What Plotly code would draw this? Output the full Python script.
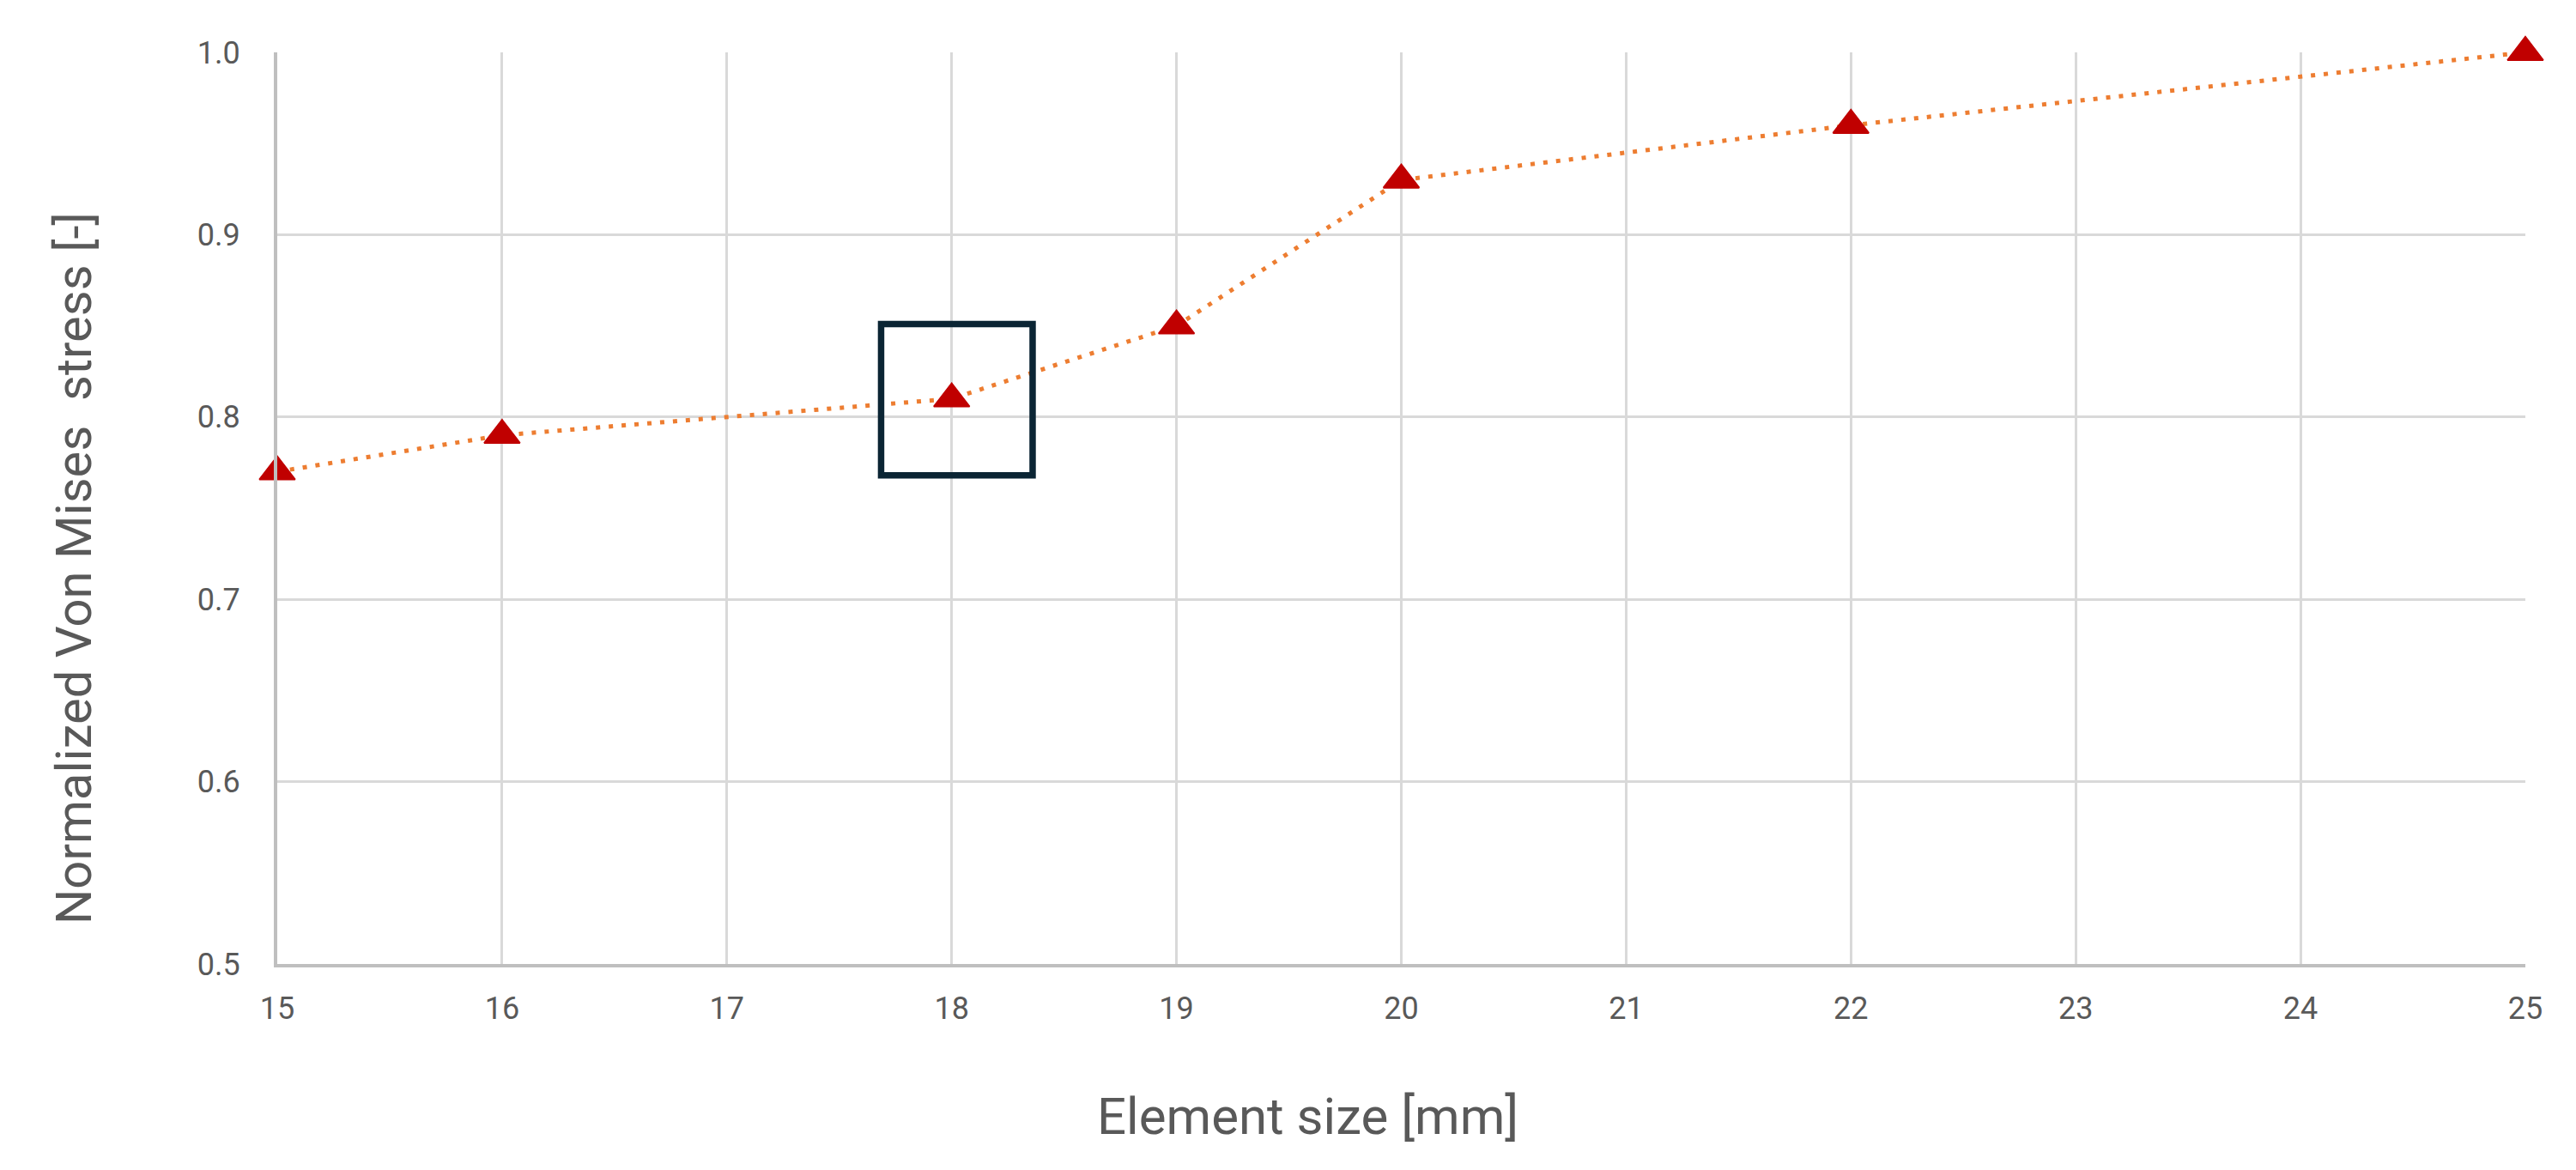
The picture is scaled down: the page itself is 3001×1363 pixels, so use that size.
import plotly.graph_objects as go

# -----------------------------------------------------------------------------
#
# Data
#
# -----------------------------------------------------------------------------
element_size = [15, 16, 18, 19, 20, 22, 25]
norm_stress = [0.77, 0.79, 0.81, 0.85, 0.93, 0.96, 1.0]

x_ticks = list(range(15, 26))
y_ticks = [0.5, 0.6, 0.7, 0.8, 0.9, 1.0]
y_tick_text = ['0.5', '0.6', '0.7', '0.8', '0.9', '1.0']

x_title = 'Element size [mm]'
y_title = 'Normalized Von Mises\u00a0 stress [-]'

# highlight box around the 18 mm point (data coordinates)
box_x = [17.686, 18.36]
box_y = [0.768, 0.851]

# -----------------------------------------------------------------------------
#
# Build the figure
#
# -----------------------------------------------------------------------------
fig = go.Figure()
fig.add_trace(go.Scatter(
    x=element_size, y=norm_stress,
    mode='lines+markers',
    line=dict(color='#ED7D31', width=5, dash='5px,10px'),
    marker=dict(symbol='triangle-up', size=36, color='#C00000',
                line=dict(color='#C00000', width=2)),
    cliponaxis=False,
    showlegend=False,
))

fig.add_shape(type='rect', xref='x', yref='y',
              x0=box_x[0], x1=box_x[1], y0=box_y[0], y1=box_y[1],
              line=dict(color='#0B2534', width=7.5))

# axis titles sit off-centre in the original, so place them as annotations
fig.add_annotation(text=x_title, xref='paper', yref='paper', x=0.4584, y=-0.1676,
                   xanchor='center', yanchor='middle', showarrow=False,
                   font=dict(size=60, color='#595959'))
fig.add_annotation(text=y_title, xref='paper', yref='paper', x=-0.0905, y=0.434,
                   xanchor='center', yanchor='middle', showarrow=False, textangle=-90,
                   font=dict(size=58, color='#595959'))

font_family = 'Roboto, Arial, sans-serif'
# the page body adds an 8px offset, so the figure is a bit smaller than the window
fig.update_layout(
    width=2985, height=1347,
    margin=dict(l=315, r=51, t=53, b=232),
    plot_bgcolor='white', paper_bgcolor='white',
    font=dict(family=font_family, color='#595959', size=36),
    xaxis=dict(
        range=[15, 25], tickvals=x_ticks, automargin=False,
        showgrid=True, gridcolor='#D9D9D9', gridwidth=3,
        showline=True, linecolor='#BFBFBF', linewidth=4,
        zeroline=False, ticks='', ticklabelstandoff=17,
        tickfont=dict(size=36, color='#595959'),
    ),
    yaxis=dict(
        range=[0.5, 1.0], tickvals=y_ticks, ticktext=y_tick_text, automargin=False,
        showgrid=True, gridcolor='#D9D9D9', gridwidth=3,
        showline=True, linecolor='#BFBFBF', linewidth=4,
        zeroline=False, ticks='', ticklabelstandoff=32,
        tickfont=dict(size=36, color='#595959'),
    ),
)

fig.write_html('out.html')
